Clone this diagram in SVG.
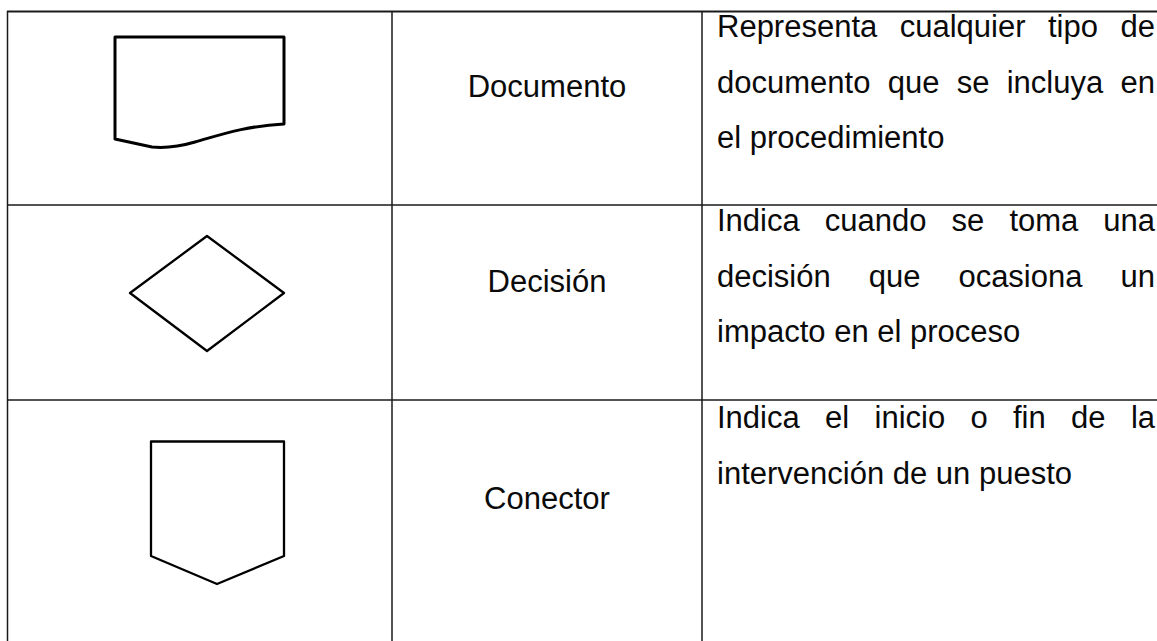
<svg xmlns="http://www.w3.org/2000/svg" width="1157" height="641" viewBox="0 0 1157 641">
<style>
.grid{stroke:#1a1a1a;stroke-width:1.5;fill:none}
.shape{stroke:#000;stroke-width:2.3;fill:none;stroke-linejoin:round}
.thick{stroke-width:3}
.lbl{font-family:"Liberation Sans",Arial,sans-serif;font-size:31px;fill:#0a0a0a}
.mid{text-anchor:middle}
</style>
<rect width="1157" height="641" fill="#fff"/>
<g id="table" class="grid">
<line x1="7" y1="11.5" x2="1157" y2="11.5" stroke-width="2"/>
<line x1="7" y1="205" x2="1157" y2="205"/>
<line x1="7" y1="400" x2="1157" y2="400"/>
<line x1="7.5" y1="11" x2="7.5" y2="641"/>
<line x1="392" y1="11" x2="392" y2="641"/>
<line x1="702" y1="11" x2="702" y2="641"/>
</g>
<g id="connectors"></g>
<g id="row-documento">
<path class="shape thick" d="M115,37 H284 V124 C245,126 220,135 195,142 C178,147 163,148 152,147 L115,139 Z"/>
<text class="lbl mid" x="547" y="97">Documento</text>
<text class="lbl" y="37"><tspan x="717">Representa</tspan><tspan x="899.7">cualquier</tspan><tspan x="1048">tipo</tspan><tspan x="1120.5">de</tspan></text>
<text class="lbl" y="93"><tspan x="717">documento</tspan><tspan x="887.7">que</tspan><tspan x="956.7">se</tspan><tspan x="1006.7">incluya</tspan><tspan x="1120.5">en</tspan></text>
<text class="lbl" x="717" y="148">el procedimiento</text>
</g>
<g id="row-decision">
<polygon class="shape" points="207,236 284,293 207,351 130,293"/>
<text class="lbl mid" x="547" y="292">Decisión</text>
<text class="lbl" y="231"><tspan x="717">Indica</tspan><tspan x="824.8">cuando</tspan><tspan x="951.6">se</tspan><tspan x="1009.4">toma</tspan><tspan x="1103.3">una</tspan></text>
<text class="lbl" y="287"><tspan x="717">decisión</tspan><tspan x="868.7">que</tspan><tspan x="958.4">ocasiona</tspan><tspan x="1120.5">un</tspan></text>
<text class="lbl" x="717" y="342">impacto en el proceso</text>
</g>
<g id="row-conector">
<polygon class="shape" points="151,441.5 284,441.5 284,556 217,584 151,556"/>
<text class="lbl mid" x="547" y="509">Conector</text>
<text class="lbl" y="428"><tspan x="717">Indica</tspan><tspan x="825">el</tspan><tspan x="874.5">inicio</tspan><tspan x="970.5">o</tspan><tspan x="1013">fin</tspan><tspan x="1071">de</tspan><tspan x="1130.9">la</tspan></text>
<text class="lbl" x="717" y="484">intervención de un puesto</text>
</g>
</svg>
